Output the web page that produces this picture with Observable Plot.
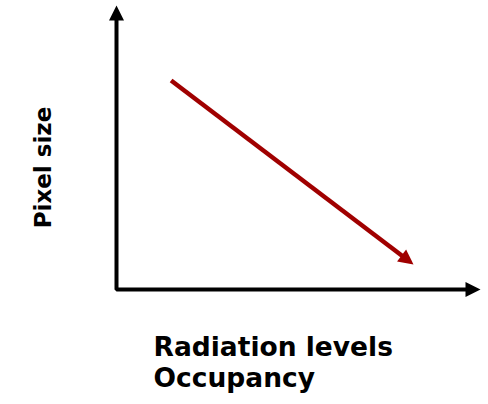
<!DOCTYPE html>
<html><head><meta charset="utf-8">
<script src="https://cdn.jsdelivr.net/npm/d3@7"></script>
<script src="https://cdn.jsdelivr.net/npm/@observablehq/plot@0.6"></script>
<style>html,body{margin:0;padding:0;background:#fff}</style>
</head><body><div id="chart"></div>
<script>
// Conceptual axes (0..10 in both directions)
const xDomain = [0, 10];
const yDomain = [0, 10];
// Axis arrows: tail -> tip
const yAxisX = [0, 0];
const yAxisY = [0, 10];
const xAxisX = [0, 10];
const xAxisY = [0, 0];
// Trend arrow: tail -> tip (decreasing)
const trendX = [1.5, 8.16];
const trendY = [7.36, 0.88];
// Texts
const yLabel = "Pixel size";
const xLabels = ["Radiation levels", "Occupancy"];

const W = 488, H = 404;
const m = {left: 116, right: 8, top: 5, bottom: 115};
const sx = d3.scaleLinear(xDomain, [m.left, W - m.right]);
const sy = d3.scaleLinear(yDomain, [H - m.bottom, m.top]);
const headLen = 15, headHalf = 7.5;

function arrowParts(xs, ys) {
  const px0 = sx(xs[0]), py0 = sy(ys[0]), px1 = sx(xs[1]), py1 = sy(ys[1]);
  const len = Math.hypot(px1 - px0, py1 - py0);
  const ux = (px1 - px0) / len, uy = (py1 - py0) / len;
  const base = {x: sx.invert(px1 - ux * (headLen - 1)), y: sy.invert(py1 - uy * (headLen - 1))};
  const symbol = {draw(ctx) {
    ctx.moveTo(0, 0);
    ctx.lineTo(-ux * headLen - uy * headHalf, -uy * headLen + ux * headHalf);
    ctx.lineTo(-ux * headLen + uy * headHalf, -uy * headLen - ux * headHalf);
    ctx.closePath();
  }};
  return {base, tip: {x: xs[1], y: ys[1]}, tail: {x: xs[0], y: ys[0]}, symbol};
}
const ya = arrowParts(yAxisX, yAxisY);
const xa = arrowParts(xAxisX, xAxisY);
const tr = arrowParts(trendX, trendY);

const axisPath = [ya.base, {x: xAxisX[0], y: yAxisY[0]}, xa.base];
const trendPath = [tr.tail, tr.base];
const font = "DejaVu Sans";

const chart = Plot.plot({
  width: W, height: H,
  marginLeft: m.left, marginRight: m.right, marginTop: m.top, marginBottom: m.bottom,
  x: {domain: xDomain, axis: null},
  y: {domain: yDomain, axis: null},
  style: {background: "#fff", fontFamily: font},
  marks: [
    Plot.line(axisPath, {x: "x", y: "y", stroke: "#000", strokeWidth: 4, strokeLinejoin: "miter", strokeLinecap: "butt"}),
    Plot.dot([ya.tip], {x: "x", y: "y", symbol: ya.symbol, fill: "#000", stroke: "none"}),
    Plot.dot([xa.tip], {x: "x", y: "y", symbol: xa.symbol, fill: "#000", stroke: "none"}),
    Plot.line(trendPath, {x: "x", y: "y", stroke: "#a00000", strokeWidth: 4.5, strokeLinecap: "butt"}),
    Plot.dot([tr.tip], {x: "x", y: "y", symbol: tr.symbol, fill: "#a00000", stroke: "none"}),
    Plot.text([yLabel], {frameAnchor: "left", text: d => d, rotate: -90, textAnchor: "middle", lineAnchor: "bottom",
      dx: -66, dy: 20, fontSize: 23, fontWeight: "bold", fill: "#000", fontFamily: font}),
    Plot.text([xLabels.join("\n")], {frameAnchor: "bottom-left", text: d => d, textAnchor: "start", lineAnchor: "top",
      lineHeight: 1.17, dx: 37, dy: 44, fontSize: 26.5, fontWeight: "bold", fill: "#000", fontFamily: font})
  ]
});
document.getElementById("chart").appendChild(chart);
</script>
</body></html>
